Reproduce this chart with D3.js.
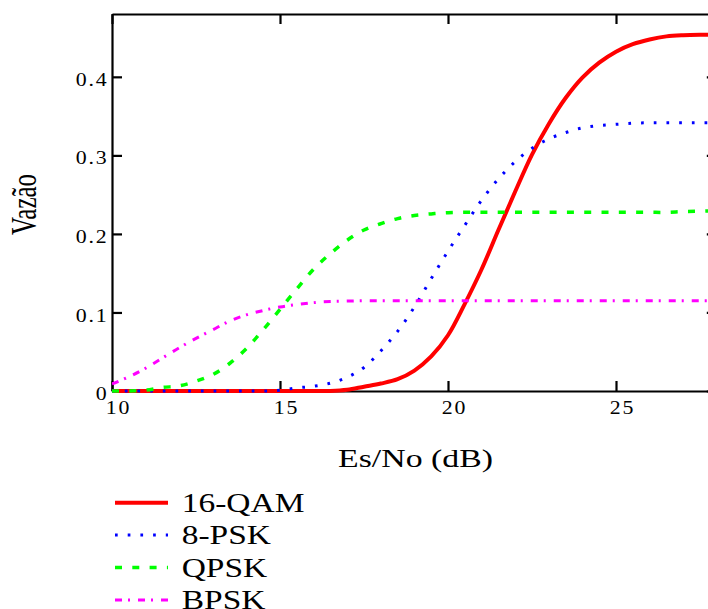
<!DOCTYPE html>
<html>
<head>
<meta charset="utf-8">
<script src="https://cdn.jsdelivr.net/npm/d3@7"></script>
<style>
body { margin: 0; background: #fff; }
text { font-family: "Liberation Serif", "Times New Roman", serif; fill: #000; }
</style>
</head>
<body>
<svg id="chart" width="708" height="609"></svg>
<script>
// values, Es/No grid in dB
var esno = [10, 10.5, 11, 11.5, 12, 12.5, 13, 13.5, 14, 14.5, 15, 15.5, 16, 16.5, 17, 17.5, 18, 18.5,
	19, 19.5, 20, 20.5, 21, 21.5, 22, 22.5, 23, 23.5, 24, 24.5, 25, 25.5, 26, 26.5, 27, 27.5, 28];

var qam16 = [0, 0, 0, 0, 0, 0, 0, 0, 0, 0, 0, 0, 0, 0,
	0.0015, 0.0055, 0.0095, 0.015, 0.026, 0.044, 0.071, 0.111, 0.155, 0.205, 0.254, 0.301,
	0.340, 0.373, 0.399, 0.418, 0.432, 0.4415, 0.4475, 0.4515, 0.453, 0.4535, 0.4535];
var psk8 = [0, 0, 0, 0, 0, 0, 0, 0, 0, 0,
	0.001, 0.004, 0.006, 0.010, 0.0175, 0.030, 0.051, 0.076, 0.107, 0.143, 0.178, 0.211,
	0.243, 0.270, 0.292, 0.309, 0.321, 0.329, 0.335, 0.338, 0.3395, 0.341,
	0.3415, 0.3415, 0.3415, 0.3415, 0.3415];
var qpsk = [0, 0, 0.001, 0.0045, 0.0065, 0.0125, 0.021, 0.035, 0.054, 0.078, 0.104, 0.130,
	0.155, 0.175, 0.192, 0.205, 0.213, 0.2195, 0.2235, 0.2255, 0.227,
	0.2275, 0.2275, 0.2275, 0.2275, 0.2275, 0.2275, 0.2275, 0.2275, 0.2275, 0.2275, 0.2275, 0.2275, 0.2275,
	0.2285, 0.229, 0.2295];
var bpsk = [0.009, 0.018, 0.029, 0.042, 0.055, 0.067, 0.078, 0.089, 0.097, 0.1025, 0.107, 0.110,
	0.1125, 0.114, 0.1145,
	0.115, 0.115, 0.115, 0.115, 0.115, 0.115, 0.115, 0.115, 0.115, 0.115, 0.115,
	0.115, 0.115, 0.115, 0.115, 0.115, 0.115, 0.115, 0.115, 0.115, 0.115, 0.115];

var seriesNames = ['16-QAM', '8-PSK', 'QPSK', 'BPSK'];
var xTicks = [10, 15, 20, 25];
var yTicks = [0, 0.1, 0.2, 0.3, 0.4];

var svg = d3.select('svg#chart');

// plot box (right border falls just outside the picture)
var boxL = 112, boxR = 716.8, boxT = 14, boxB = 391;
var x = d3.scaleLinear().domain([10, 28]).range([boxL, boxR]);
var y = d3.scaleLinear().domain([0, 0.48]).range([boxB, boxT]);

var series = [
	{ name: seriesNames[0], values: qam16, color: '#ff0000', width: 4, dash: null },
	{ name: seriesNames[1], values: psk8, color: '#0000ff', width: 3, dash: '2.7,10' },
	{ name: seriesNames[2], values: qpsk, color: '#00ff00', width: 3.5, dash: '7,10.3' },
	{ name: seriesNames[3], values: bpsk, color: '#ff00ff', width: 3, dash: '7,6,2,8' }
];

svg.append('clipPath').attr('id', 'plotclip')
	.append('rect').attr('x', boxL).attr('y', boxT).attr('width', boxR - boxL).attr('height', boxB - boxT + 3);

var line = d3.line()
	.x(function(d, i) { return x(esno[i]); })
	.y(function(d) { return y(Math.max(d, 0)); })
	.curve(d3.curveCatmullRom.alpha(0.5));

// axes, all ticks point inward
var yFmt = function(d) { return d === 0 ? '0' : d.toFixed(1); };

var gLeft = svg.append('g').attr('transform', 'translate(' + boxL + ',0)')
	.call(d3.axisLeft(y).tickValues(yTicks).tickFormat(yFmt).tickSizeInner(-10).tickSizeOuter(0));
var gBottom = svg.append('g').attr('transform', 'translate(0,' + boxB + ')')
	.call(d3.axisBottom(x).tickValues(xTicks).tickSizeInner(-10).tickSizeOuter(0));
svg.append('g').attr('transform', 'translate(0,' + boxT + ')')
	.call(d3.axisTop(x).tickValues(xTicks).tickFormat('').tickSizeInner(-10).tickSizeOuter(0));
svg.append('g').attr('transform', 'translate(' + boxR + ',0)')
	.call(d3.axisRight(y).tickValues(yTicks).tickFormat('').tickSizeInner(-10).tickSizeOuter(0));

svg.selectAll('.domain, .tick line').attr('stroke', '#000').attr('stroke-width', 2.2);

gLeft.selectAll('.tick text')
	.attr('font-size', 19)
	.attr('letter-spacing', 1.5)
	.attr('transform', 'scale(1.15,1)')
	.attr('x', -3.2).attr('dy', '0.45em');
gLeft.selectAll('.tick').filter(function(d) { return d === 0; }).select('line').remove();

gBottom.selectAll('.tick text')
	.attr('font-size', 19)
	.attr('letter-spacing', 1.5)
	.attr('transform', 'scale(1.15,1)')
	.attr('x', 6 / 1.15).attr('y', 23).attr('dy', 0);

// curves
svg.append('g').attr('clip-path', 'url(#plotclip)')
	.selectAll('path').data(series).enter().append('path')
	.attr('d', function(s) { return line(s.values); })
	.attr('fill', 'none')
	.attr('stroke', function(s) { return s.color; })
	.attr('stroke-width', function(s) { return s.width; })
	.attr('stroke-dasharray', function(s) { return s.dash; });

// axis titles
svg.append('text')
	.attr('transform', 'translate(415.5,467) scale(1.3,1)')
	.attr('text-anchor', 'middle')
	.attr('font-size', 26)
	.text('Es/No (dB)');

svg.append('text')
	.attr('transform', 'translate(35.5,235) scale(1.39,1) rotate(-90)')
	.attr('text-anchor', 'start')
	.attr('font-size', 25)
	.text('Vazão');

// legend
var leg = svg.append('g').selectAll('g').data(series).enter().append('g')
	.attr('transform', function(s, i) { return 'translate(115,' + (502.7 + i * 32.4) + ')'; });
leg.append('line')
	.attr('x1', 0).attr('x2', 53).attr('y1', 0).attr('y2', 0)
	.attr('stroke', function(s) { return s.color; })
	.attr('stroke-width', function(s) { return s.width; })
	.attr('stroke-dasharray', function(s) { return s.dash; });
leg.append('text')
	.attr('transform', 'translate(66.7,9) scale(1.24,1)')
	.attr('font-size', 27)
	.text(function(s) { return s.name; });
</script>
</body>
</html>
